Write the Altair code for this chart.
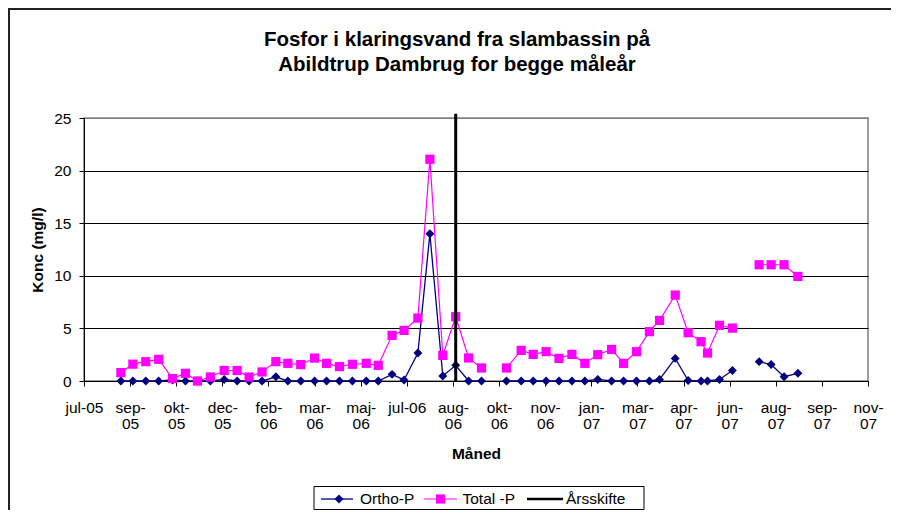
import altair as alt
import pandas as pd

# ---- data ----
# x position of each sample, in days from the start of the axis (jul-05)
days = [40, 53, 67, 81, 96, 110, 123, 137, 152, 166, 179, 193, 208, 221, 235, 250, 263, 277, 291, 306,
        319, 334, 347, 362, 375, 389, 403, 417, 431,
        458, 474, 487, 501, 515, 529, 543, 557, 572, 585, 599, 613, 624, 641, 655, 669, 676, 689, 703,
        732, 745, 759, 774]
segment = [0] * 29 + [1] * 19 + [2] * 4
ortho_p = [0, 0, 0, 0, 0.1, 0, 0, 0, 0.15, 0, 0, 0, 0.4, 0, 0, 0, 0, 0, 0, 0,
           0, 0.63, 0.1, 2.66, 14.0, 0.48, 1.49, 0, 0,
           0, 0, 0, 0, 0, 0, 0, 0.15, 0, 0, 0, 0, 0.15, 2.15, 0.05, 0, 0, 0.15, 1.0,
           1.84, 1.56, 0.41, 0.73]
total_p = [0.8, 1.6, 1.84, 2.06, 0.23, 0.73, 0.0, 0.38, 1.0, 1.0, 0.38, 0.86, 1.84, 1.68, 1.56, 2.18, 1.68, 1.37, 1.59, 1.68,
           1.49, 4.34, 4.81, 5.98, 21.08, 2.44, 6.11, 2.19, 1.24,
           1.24, 2.91, 2.53, 2.79, 2.15, 2.53, 1.68, 2.5, 3.0, 1.68, 2.79, 4.69, 5.76, 8.17, 4.59, 3.74, 2.66, 5.29, 5.03,
           11.05, 11.05, 11.05, 9.94]
arsskifte_day = [403]
arsskifte_y = [0, 25.4]

tick_step = 50
x_tick_labels = ["jul-05", "sep-05", "okt-05", "dec-05", "feb-06", "mar-06", "maj-06", "jul-06", "aug-06",
                 "okt-06", "nov-06", "jan-07", "mar-07", "apr-07", "jun-07", "aug-07", "sep-07", "nov-07"]
x_unwrapped = ["jul-05", "jul-06"]
y_ticks = [0, 5, 10, 15, 20, 25]

title_lines = ["Fosfor i klaringsvand fra slambassin på", "Abildtrup Dambrug for begge måleår"]
series_names = ["Ortho-P", "Total -P", "Årsskifte"]

FONT = "Liberation Sans"
NAVY = "#000080"
MAGENTA = "#FF00FF"

# ---- tables ----
df = pd.DataFrame({"day": days, "seg": segment, "ortho": ortho_p, "total": total_p})
rule_df = pd.DataFrame({"day": arsskifte_day, "y0": [arsskifte_y[0]], "y1": [arsskifte_y[1]]})
one = pd.DataFrame({"k": [0]})

def lab(s):
    if s in x_unwrapped:
        return "['%s']" % s
    a, b = s.split("-")
    return "['%s-','%s']" % (a, b)

label_expr = "[" + ",".join(lab(s) for s in x_tick_labels) + "][round(datum.value / %d)]" % tick_step
x_vals = [i * tick_step for i in range(len(x_tick_labels))]

x_axis = alt.Axis(values=x_vals, labelExpr=label_expr, grid=False, title="Måned",
                  labelFont=FONT, labelFontSize=15.5, labelColor="black", labelPadding=14,
                  labelBaseline="top", labelLineHeight=16, labelOverlap=False, labelFlush=False,
                  labelBound=False, tickSize=5, tickColor="black", domainColor="black",
                  titleFont=FONT, titleFontSize=15.5, titleFontWeight="bold", titleColor="black",
                  titleY=77, titleBaseline="alphabetic")
y_axis = alt.Axis(values=y_ticks, grid=True,
                  gridColor={"condition": {"test": "datum.value === 25", "value": "#808080"}, "value": "#000000"},
                  gridWidth=1, labelFont=FONT, labelFontSize=15.5, labelColor="black", labelPadding=8,
                  tickSize=5, tickColor="black", domainColor="black", title="Konc (mg/l)",
                  titleFont=FONT, titleFontSize=15.5, titleFontWeight="bold", titleColor="black",
                  titleX=-47, titleY=131.5, titleAngle=-90, titleBaseline="middle", titleAlign="center")

x_scale = alt.Scale(domain=[0, tick_step * (len(x_tick_labels) - 1)], nice=False, zero=False)
y_scale = alt.Scale(domain=[0, 25], nice=False)

X = alt.X("day:Q", scale=x_scale, axis=x_axis)

base = alt.Chart(df)
ortho_line = base.mark_line(color=NAVY, strokeWidth=1.3).encode(
    x=X, y=alt.Y("ortho:Q", scale=y_scale, axis=y_axis), detail="seg:N")
ortho_pts = base.mark_point(shape="diamond", filled=True, size=80, color=NAVY, opacity=1).encode(
    x=X, y=alt.Y("ortho:Q", scale=y_scale, axis=y_axis))
total_line = base.mark_line(color=MAGENTA, strokeWidth=1.2).encode(
    x=X, y=alt.Y("total:Q", scale=y_scale, axis=y_axis), detail="seg:N")
total_pts = base.mark_point(shape="square", filled=True, size=85, color=MAGENTA, opacity=1).encode(
    x=X, y=alt.Y("total:Q", scale=y_scale, axis=y_axis))
rule = alt.Chart(rule_df).mark_rule(color="black", strokeWidth=3).encode(
    x=X, y=alt.Y("y0:Q", scale=y_scale, axis=y_axis), y2="y1:Q")

# ---- outer chart frame (top and left edges; the rest lies outside the picture) ----
frame_top = alt.Chart(one).mark_rule(color="#222222", strokeWidth=2).encode(
    x=alt.value(-75), x2=alt.value(900), y=alt.value(-109))
frame_left = alt.Chart(one).mark_rule(color="#222222", strokeWidth=2).encode(
    x=alt.value(-75), y=alt.value(-110), y2=alt.value(600))

# ---- title ----
t1 = alt.Chart(one).mark_text(text=title_lines[0], font=FONT, fontSize=20.5, fontWeight="bold",
                              align="center", baseline="alphabetic", color="black").encode(
    x=alt.value(373), y=alt.value(-72))
t2 = alt.Chart(one).mark_text(text=title_lines[1], font=FONT, fontSize=20.5, fontWeight="bold",
                              align="center", baseline="alphabetic", color="black").encode(
    x=alt.value(373), y=alt.value(-47))

# ---- legend (drawn by hand, as in the Excel original) ----
LY = 381
leg_box = alt.Chart(one).mark_rect(fill="white", stroke="black", strokeWidth=1).encode(
    x=alt.value(230), x2=alt.value(560), y=alt.value(368.5), y2=alt.value(391.5))
leg_l1 = alt.Chart(one).mark_rule(color=NAVY, strokeWidth=1.3).encode(
    x=alt.value(237), x2=alt.value(269), y=alt.value(LY))
leg_p1 = alt.Chart(one).mark_point(shape="diamond", filled=True, size=80, color=NAVY, opacity=1).encode(
    x=alt.value(255), y=alt.value(LY))
leg_t1 = alt.Chart(one).mark_text(text=series_names[0], font=FONT, fontSize=15.5, align="left",
                                  baseline="middle", color="black").encode(x=alt.value(276), y=alt.value(LY))
leg_l2 = alt.Chart(one).mark_rule(color=MAGENTA, strokeWidth=1.2).encode(
    x=alt.value(340), x2=alt.value(373), y=alt.value(LY))
leg_p2 = alt.Chart(one).mark_point(shape="square", filled=True, size=85, color=MAGENTA, opacity=1).encode(
    x=alt.value(356.5), y=alt.value(LY))
leg_t2 = alt.Chart(one).mark_text(text=series_names[1], font=FONT, fontSize=15.5, align="left",
                                  baseline="middle", color="black").encode(x=alt.value(378.5), y=alt.value(LY))
leg_l3 = alt.Chart(one).mark_rule(color="black", strokeWidth=2.5).encode(
    x=alt.value(443), x2=alt.value(479), y=alt.value(LY))
leg_t3 = alt.Chart(one).mark_text(text=series_names[2], font=FONT, fontSize=15.5, align="left",
                                  baseline="middle", color="black").encode(x=alt.value(482), y=alt.value(LY))

chart = alt.layer(
    frame_top, frame_left, ortho_line, ortho_pts, total_line, total_pts, rule,
    t1, t2, leg_box, leg_l1, leg_p1, leg_t1, leg_l2, leg_p2, leg_t2, leg_l3, leg_t3
).properties(
    width=784, height=263,
    autosize=alt.AutoSizeParams(type="none"),
    padding={"left": 76, "top": 110, "right": 23, "bottom": 129},
    background="white",
).configure_view(stroke="#808080", strokeWidth=1.5)

chart.save("out.html", embed_options={"renderer": "svg", "actions": False})
